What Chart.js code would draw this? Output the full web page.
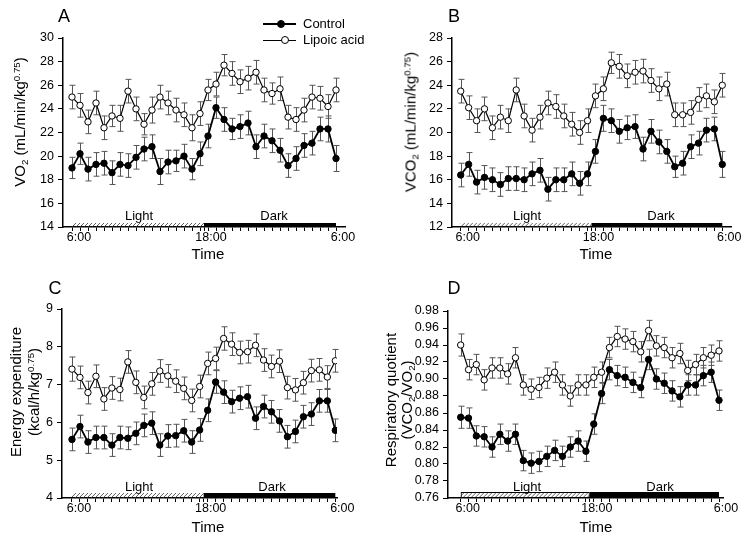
<!DOCTYPE html>
<html>
<head>
<meta charset="utf-8">
<script src="https://cdn.jsdelivr.net/npm/chart.js@4.4.0/dist/chart.umd.min.js"></script>
<style>
  body { margin: 0; width: 751px; height: 537px; position: relative; overflow: hidden; background: #fff;
         font-family: "Liberation Sans", Arial, Helvetica, sans-serif; color: #000; }
  canvas { position: absolute; }
  .t { position: absolute; transform: translate(-50%, -50%); white-space: nowrap; line-height: 1; }
  .rot { transform: translate(-50%, -50%) rotate(-90deg); }
  .lbl { font-size: 13px; }
  .ttl { font-size: 15px; }
  .let { font-size: 18px; }
  sup, sub { font-size: 0.65em; position: relative; vertical-align: baseline; line-height: 0; }
  sup { top: -0.55em; }
  sub { top: 0.3em; }
  .ln { position: absolute; height: 0; border-top: 1.6px solid #000; }
  .dot { position: absolute; width: 6px; height: 6px; border-radius: 50%; border: 1px solid #000; }
</style>
</head>
<body>
<canvas id="chartA" width="375" height="268" style="left:0;top:0"></canvas>
<canvas id="chartB" width="376" height="268" style="left:375px;top:0"></canvas>
<canvas id="chartC" width="375" height="269" style="left:0;top:268px"></canvas>
<canvas id="chartD" width="376" height="269" style="left:375px;top:268px"></canvas>

<div class="t let" style="left:64px;top:16px">A</div>
<div class="t let" style="left:454px;top:16px">B</div>
<div class="t let" style="left:55px;top:288px">C</div>
<div class="t let" style="left:454px;top:288px">D</div>

<div class="t ttl rot" style="left:19px;top:122px">VO<sub>2</sub> (mL/min/kg<sup>0.75</sup>)</div>
<div class="t ttl rot" style="left:410px;top:122px">VCO<sub>2</sub> (mL/min/kg<sup>0.75</sup>)</div>
<div class="t ttl rot" style="left:15px;top:392px">Energy expenditure</div>
<div class="t ttl rot" style="left:33px;top:392px">(kcal/h/kg<sup>0.75</sup>)</div>
<div class="t ttl rot" style="left:390px;top:400px">Respiratory quotient</div>
<div class="t ttl rot" style="left:406px;top:400px">(VCO<sub>2</sub>/VO<sub>2</sub>)</div>

<div class="t ttl" style="left:208px;top:253px">Time</div>
<div class="t ttl" style="left:596px;top:253px">Time</div>
<div class="t ttl" style="left:208px;top:526px">Time</div>
<div class="t ttl" style="left:596px;top:526px">Time</div>

<div class="t lbl" style="left:139px;top:215px">Light</div>
<div class="t lbl" style="left:274px;top:215px">Dark</div>
<div class="t lbl" style="left:527px;top:215px">Light</div>
<div class="t lbl" style="left:661px;top:215px">Dark</div>
<div class="t lbl" style="left:139px;top:486px">Light</div>
<div class="t lbl" style="left:272px;top:486px">Dark</div>
<div class="t lbl" style="left:527px;top:486px">Light</div>
<div class="t lbl" style="left:660px;top:486px">Dark</div>

<!-- legend -->
<div class="ln" style="left:263px;top:23px;width:33px;border-top-width:2px"></div>
<div class="dot" style="left:277px;top:20px;background:#000"></div>
<div class="lbl" style="position:absolute;left:303px;top:16px;line-height:16px">Control</div>
<div class="ln" style="left:263px;top:39.5px;width:33px;border-top-width:1.2px"></div>
<div class="dot" style="left:281px;top:36px;background:#fff"></div>
<div class="lbl" style="position:absolute;left:303px;top:32px;line-height:16px">Lipoic acid</div>

<script>
// time slots across 24 h (6:00 -> 6:00)
const slots = [0,1,2,3,4,5,6,7,8,9,10,11,12,13,14,15,16,17,18,19,20,21,22,23,24,25,26,27,28,29,30,31,32,33];
const xTickValues = [0, 16.5, 33];
const xTickLabels = ['6:00', '18:00', '6:00'];
const lightPhase = [0, 16.5];
const darkPhase = [16.5, 33];

// A: VO2
const aControl = [19.0,20.2,18.9,19.3,19.4,18.6,19.3,19.2,19.9,20.6,20.8,18.7,19.5,19.6,20.0,18.9,20.2,21.7,24.1,23.1,22.3,22.5,22.8,20.8,21.7,21.3,20.5,19.2,19.8,20.9,21.1,22.3,22.3,19.8];
const aControlErr = [0.9,0.9,1.0,1.0,1.0,1.0,1.0,1.0,1.0,1.0,1.0,1.1,1.0,0.9,1.0,0.9,1.0,1.0,0.9,1.0,0.9,1.0,1.0,1.0,1.0,1.0,1.0,1.0,1.0,1.0,1.0,1.0,1.1,1.1];
const aLipoic = [25.0,24.3,22.9,24.5,22.4,23.4,23.2,25.5,24.0,22.7,23.9,25.0,24.5,23.9,23.5,22.4,23.6,25.6,26.1,27.7,27.0,26.3,26.6,27.1,25.6,25.3,25.7,23.3,23.1,23.9,25.0,24.9,24.2,25.6];
const aLipoicErr = [1.0,1.0,1.0,1.0,1.0,0.9,1.1,1.0,1.0,0.9,1.1,1.0,1.0,1.0,1.0,1.1,1.0,0.9,1.0,0.9,1.0,1.0,1.0,1.0,1.0,0.9,1.0,1.0,1.0,1.0,1.0,1.0,1.0,1.0];
const aYTicks = [14,16,18,20,22,24,26,28,30];

// B: VCO2
const bControl = [16.4,17.3,15.8,16.2,16.0,15.6,16.1,16.1,16.0,16.5,16.8,15.2,16.0,16.0,16.5,15.7,16.5,18.4,21.2,21.0,20.1,20.4,20.5,18.6,20.1,19.2,18.4,17.1,17.4,18.8,19.1,20.2,20.3,17.3];
const bControlErr = [1.0,1.0,1.0,1.0,1.0,1.0,1.0,1.0,1.0,1.0,1.0,1.0,1.0,1.0,1.0,1.0,1.0,1.0,1.1,1.0,1.0,1.0,1.0,1.0,1.0,1.0,1.0,0.9,1.0,1.0,1.0,1.0,1.0,1.1];
const bLipoic = [23.5,22.1,21.0,22.0,20.4,21.3,21.0,23.6,21.4,20.2,21.3,22.5,22.2,21.4,20.7,20.0,21.0,23.1,23.7,25.9,25.6,24.8,25.1,25.2,24.4,23.7,24.1,21.5,21.5,21.7,22.8,23.1,22.6,24.0];
const bLipoicErr = [1.0,1.0,1.0,1.0,1.0,1.0,1.0,1.0,1.0,1.0,1.0,1.0,1.0,1.0,1.0,1.0,1.0,1.0,1.0,0.9,1.0,1.0,1.0,1.0,1.0,1.0,1.0,1.0,1.0,1.0,1.0,1.0,1.0,1.0];
const bYTicks = [12,14,16,18,20,22,24,26,28];

// C: energy expenditure
const cControl = [5.55,5.89,5.48,5.60,5.60,5.40,5.60,5.58,5.71,5.92,5.98,5.40,5.64,5.65,5.78,5.48,5.80,6.32,7.07,6.80,6.55,6.64,6.68,6.11,6.42,6.28,6.04,5.62,5.76,6.15,6.22,6.57,6.57,5.79];
const cControlErr = [0.3,0.3,0.3,0.3,0.3,0.3,0.3,0.3,0.3,0.3,0.3,0.3,0.3,0.3,0.3,0.3,0.3,0.3,0.3,0.3,0.3,0.3,0.3,0.3,0.3,0.3,0.3,0.3,0.3,0.3,0.3,0.3,0.3,0.3];
const cLipoic = [7.41,7.19,6.79,7.22,6.62,6.91,6.87,7.60,7.06,6.66,7.02,7.36,7.23,7.09,6.90,6.58,6.95,7.56,7.69,8.22,8.07,7.85,7.87,8.04,7.65,7.48,7.62,6.92,6.86,7.05,7.37,7.39,7.20,7.63];
const cLipoicErr = [0.32,0.3,0.3,0.3,0.3,0.3,0.3,0.3,0.3,0.3,0.3,0.3,0.3,0.3,0.3,0.3,0.3,0.3,0.3,0.31,0.3,0.3,0.3,0.3,0.3,0.3,0.3,0.3,0.3,0.3,0.3,0.3,0.3,0.3];
const cYTicks = [4,5,6,7,8,9];

// D: respiratory quotient
const dControl = [0.855,0.854,0.833,0.832,0.820,0.835,0.827,0.835,0.804,0.801,0.803,0.809,0.816,0.809,0.820,0.827,0.815,0.847,0.883,0.911,0.904,0.902,0.896,0.890,0.923,0.900,0.895,0.886,0.879,0.893,0.893,0.904,0.908,0.875];
const dControlErr = [0.013,0.012,0.012,0.012,0.012,0.012,0.012,0.012,0.012,0.012,0.012,0.012,0.012,0.012,0.012,0.012,0.012,0.012,0.012,0.012,0.012,0.012,0.012,0.012,0.012,0.012,0.012,0.012,0.012,0.012,0.012,0.012,0.012,0.012];
const dLipoic = [0.940,0.911,0.917,0.899,0.913,0.913,0.906,0.925,0.893,0.888,0.890,0.901,0.908,0.893,0.880,0.893,0.893,0.902,0.908,0.937,0.950,0.947,0.944,0.932,0.957,0.939,0.937,0.925,0.930,0.910,0.917,0.925,0.928,0.933];
const dLipoicErr = [0.013,0.012,0.012,0.012,0.012,0.012,0.012,0.012,0.012,0.012,0.012,0.012,0.012,0.012,0.012,0.012,0.012,0.012,0.012,0.012,0.012,0.012,0.012,0.012,0.012,0.012,0.012,0.012,0.012,0.012,0.012,0.012,0.012,0.012];
const dYTicks = [0.76,0.78,0.80,0.82,0.84,0.86,0.88,0.90,0.92,0.94,0.96,0.98];

const FONT = { family: '"Liberation Sans", Arial, Helvetica, sans-serif', size: 12.5, lineHeight: 1 };

// SE bars under the points
const errorBars = {
  id: 'errorBars',
  beforeDatasetsDraw(chart) {
    const { ctx, scales: { x, y } } = chart;
    ctx.save();
    ctx.strokeStyle = '#555';
    ctx.lineWidth = 1;
    chart.data.datasets.forEach((ds) => {
      ds.data.forEach((p, i) => {
        const e = ds.errors[i];
        const px = Math.round(x.getPixelForValue(p.x)) + 0.5;
        const hi = y.getPixelForValue(p.y + e);
        const lo = y.getPixelForValue(p.y - e);
        ctx.beginPath();
        ctx.moveTo(px, hi); ctx.lineTo(px, lo);
        ctx.moveTo(px - 3, hi); ctx.lineTo(px + 3, hi);
        ctx.moveTo(px - 3, lo); ctx.lineTo(px + 3, lo);
        ctx.stroke();
      });
    });
    ctx.restore();
  }
};

// light (hatched) / dark (solid) bar on the time axis
const phaseBar = {
  id: 'phaseBar',
  beforeDatasetsDraw(chart, args, opts) {
    const { ctx, chartArea, scales: { x } } = chart;
    const h = opts.h;
    const b = chartArea.bottom;
    const l0 = x.getPixelForValue(lightPhase[0]), l1 = x.getPixelForValue(lightPhase[1]);
    const d0 = x.getPixelForValue(darkPhase[0]), d1 = x.getPixelForValue(darkPhase[1]);
    ctx.save();
    ctx.fillStyle = '#000';
    ctx.fillRect(d0, b - h, d1 - d0, h);
    ctx.beginPath();
    ctx.rect(l0, b - h, l1 - l0, h);
    ctx.clip();
    ctx.strokeStyle = '#333';
    ctx.lineWidth = 0.8;
    ctx.beginPath();
    for (let px = l0 - h; px < l1; px += 4) {
      ctx.moveTo(px, b);
      ctx.lineTo(px + h, b - h);
    }
    ctx.stroke();
    if (opts.outline) {
      ctx.lineWidth = 1;
      ctx.strokeStyle = '#000';
      ctx.strokeRect(l0 + 0.5, b - h + 0.5, l1 - l0 - 1, h - 1);
    }
    ctx.restore();
  }
};

function makePanel(id, p) {
  const canvas = document.getElementById(id);
  const H = canvas.height;
  new Chart(canvas, {
    type: 'line',
    data: {
      datasets: [
        {
          label: 'Control',
          data: slots.map((s, i) => ({ x: s, y: p.control[i] })),
          errors: p.controlErr,
          borderColor: '#000', borderWidth: 1.8,
          pointBackgroundColor: '#000', pointBorderColor: '#000',
          pointRadius: 3.2, pointBorderWidth: 1, tension: 0
        },
        {
          label: 'Lipoic acid',
          data: slots.map((s, i) => ({ x: s, y: p.lipoic[i] })),
          errors: p.lipoicErr,
          borderColor: '#000', borderWidth: 1.2,
          pointBackgroundColor: '#fff', pointBorderColor: '#000',
          pointRadius: 3.2, pointBorderWidth: 1, tension: 0
        }
      ]
    },
    options: {
      responsive: false,
      animation: false,
      layout: { padding: { left: 0, top: p.top, right: p.right, bottom: 0 } },
      plugins: {
        legend: { display: false },
        tooltip: { enabled: false },
        phaseBar: { h: p.barH, outline: p.outline }
      },
      scales: {
        x: {
          type: 'linear', min: p.xMin, max: p.xMax,
          afterFit: (s) => { s.height = H - p.bottom; },
          afterBuildTicks: (s) => {
            s.ticks = slots.concat([16.5]).sort((a, b) => a - b).map((v) => ({ value: v }));
          },
          ticks: {
            autoSkip: false, maxRotation: 0, padding: 0, labelOffset: 7,
            color: '#000', font: FONT,
            callback: (v) => {
              const k = xTickValues.indexOf(v);
              return k >= 0 ? xTickLabels[k] : '';
            }
          },
          grid: { drawOnChartArea: false, drawTicks: true, tickLength: 4, color: '#000', lineWidth: 1 },
          border: { display: true, color: '#000', width: 1.5 }
        },
        y: {
          min: p.yTicks[0], max: p.yTicks[p.yTicks.length - 1],
          afterFit: (s) => { s.width = p.left; },
          afterBuildTicks: (s) => { s.ticks = p.yTicks.map((v) => ({ value: v })); },
          ticks: {
            padding: 4, color: '#000', font: FONT,
            callback: (v) => (p.decimals ? v.toFixed(p.decimals) : v)
          },
          grid: { drawOnChartArea: false, drawTicks: true, tickLength: 5, color: '#000', lineWidth: 1 },
          border: { display: true, color: '#000', width: 1.5 }
        }
      }
    },
    plugins: [errorBars, phaseBar]
  });
}

makePanel('chartA', { control: aControl, controlErr: aControlErr, lipoic: aLipoic, lipoicErr: aLipoicErr,
  yTicks: aYTicks, left: 63, top: 38, right: 30, bottom: 227, xMin: -1.125, xMax: 34.125, barH: 4, outline: false });
makePanel('chartB', { control: bControl, controlErr: bControlErr, lipoic: bLipoic, lipoicErr: bLipoicErr,
  yTicks: bYTicks, left: 77, top: 38, right: 20, bottom: 227, xMin: -1.1, xMax: 34.1, barH: 4, outline: false });
makePanel('chartC', { control: cControl, controlErr: cControlErr, lipoic: cLipoic, lipoicErr: cLipoicErr,
  yTicks: cYTicks, left: 62, top: 41, right: 38, bottom: 230, xMin: -1.25, xMax: 33.21, barH: 5, outline: false });
makePanel('chartD', { control: dControl, controlErr: dControlErr, lipoic: dLipoic, lipoicErr: dLipoicErr,
  yTicks: dYTicks, decimals: 2, left: 73, top: 43, right: 28, bottom: 230, xMin: -1.62, xMax: 33.51, barH: 6, outline: true });
</script>
</body>
</html>
